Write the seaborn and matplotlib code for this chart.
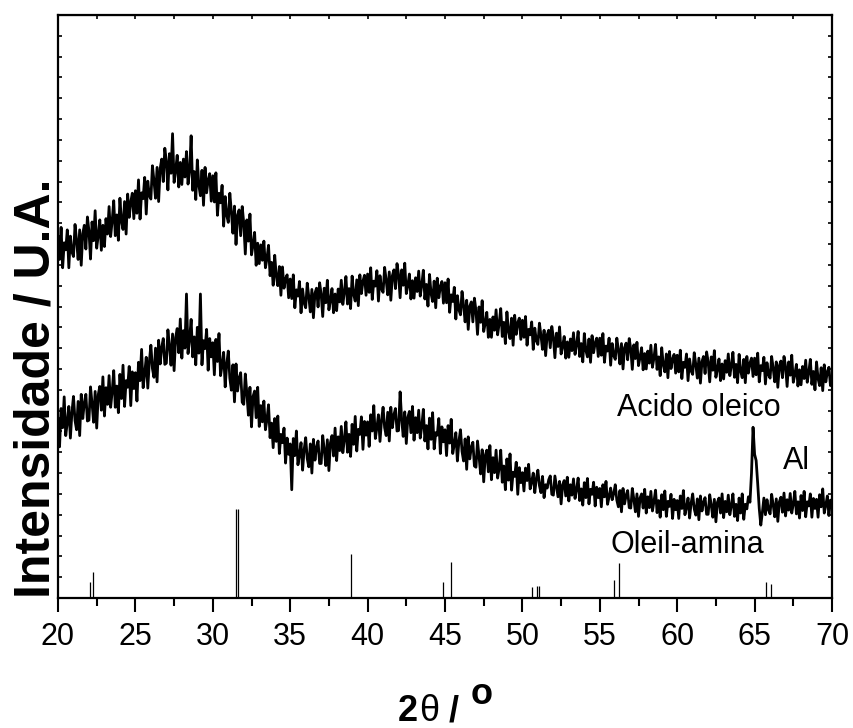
from matplotlib import pyplot as plt
from matplotlib.ticker import MultipleLocator
import seaborn as sns
import pandas as pd
import numpy as np

# 2theta scan grid (0.1 deg step)
two_theta = np.linspace(20, 70, 501)

# Acido oleico (upper pattern), counts, one row per degree
acido_oleico = [
    870, 813, 890, 793, 853, 836, 884, 793, 869, 831,
    820, 897, 858, 813, 884, 799, 875, 895, 838, 915,
    881, 814, 903, 858, 930, 840, 871, 908, 835, 895,
    844, 911, 874, 940, 868, 906, 954, 870, 920, 859,
    960, 905, 885, 952, 874, 970, 914, 951, 972, 911,
    978, 924, 1004, 910, 973, 959, 1010, 922, 1001, 966,
    958, 1038, 1002, 960, 1034, 952, 1031, 1054, 1000, 1080,
    1049, 980, 1067, 1020, 1115, 998, 1027, 1063, 987, 1046,
    993, 1054, 1011, 1072, 994, 1026, 1110, 979, 1024, 957,
    1052, 991, 966, 1027, 943, 1034, 973, 1004, 1019, 953,
    1014, 951, 1021, 919, 972, 949, 991, 893, 964, 919,
    902, 972, 927, 876, 941, 849, 919, 932, 870, 940,
    900, 826, 908, 857, 922, 824, 848, 878, 799, 852,
    803, 848, 811, 857, 793, 816, 847, 774, 806, 751,
    823, 773, 750, 796, 727, 795, 744, 767, 776, 721,
    766, 719, 776, 697, 740, 725, 760, 685, 742, 708,
    697, 756, 724, 687, 741, 673, 732, 744, 699, 757,
    730, 676, 744, 709, 763, 692, 715, 743, 685, 730,
    690, 742, 711, 763, 705, 735, 772, 706, 743, 695,
    773, 729, 713, 764, 702, 776, 731, 761, 775, 727,
    778, 734, 793, 717, 761, 749, 786, 713, 774, 742,
    734, 794, 763, 728, 783, 715, 774, 788, 743, 803,
    777, 721, 788, 751, 804, 731, 751, 778, 718, 762,
    720, 769, 736, 785, 725, 752, 787, 718, 753, 701,
    777, 731, 712, 761, 697, 768, 721, 748, 760, 708,
    757, 709, 766, 686, 728, 712, 746, 670, 726, 692,
    680, 736, 703, 663, 715, 645, 701, 711, 663, 720,
    690, 633, 699, 662, 714, 640, 660, 686, 626, 669,
    626, 675, 643, 692, 632, 660, 695, 628, 662, 611,
    687, 641, 623, 672, 607, 679, 633, 661, 672, 621,
    667, 626, 676, 607, 645, 632, 663, 597, 648, 618,
    609, 660, 630, 597, 643, 582, 632, 643, 601, 652,
    626, 577, 636, 604, 651, 586, 605, 628, 576, 615,
    578, 622, 594, 637, 585, 609, 640, 580, 611, 567,
    635, 595, 579, 622, 566, 630, 589, 613, 624, 580,
    624, 583, 635, 566, 605, 593, 624, 559, 611, 582,
    573, 624, 596, 562, 611, 550, 601, 612, 572, 623,
    598, 549, 608, 575, 614, 558, 578, 601, 548, 587,
    550, 593, 564, 607, 554, 577, 609, 549, 579, 534,
    601, 560, 543, 586, 529, 592, 551, 574, 585, 540,
    583, 543, 595, 527, 566, 554, 586, 522, 574, 545,
    537, 589, 561, 528, 576, 516, 568, 580, 539, 591,
    567, 519, 579, 547, 594, 530, 550, 574, 522, 562,
    526, 570, 542, 586, 534, 558, 590, 530, 561, 517,
    585, 545, 529, 573, 517, 580, 540, 564, 576, 532,
    576, 536, 588, 519, 558, 546, 578, 514, 565, 536,
    528, 580, 552, 519, 567, 506, 558, 569, 529, 580,
    556, 508, 567, 535, 583, 518, 537, 561, 509, 548,
    512, 556, 527, 571, 518, 542, 573, 513, 544, 500,
    567, 527, 510, 553, 498, 560, 519, 543, 554, 510,
    530,
]

# Oleil-amina (lower pattern), counts, one row per degree
oleil_amina = [
    433, 363, 455, 409, 483, 390, 422, 460, 384, 446,
    484, 426, 404, 472, 390, 489, 431, 469, 489, 425,
    427, 507, 467, 422, 496, 408, 488, 508, 451, 531,
    437, 505, 465, 534, 458, 496, 546, 458, 509, 445,
    537, 479, 559, 460, 522, 506, 556, 462, 543, 503,
    541, 473, 566, 522, 597, 505, 539, 578, 504, 567,
    607, 551, 530, 600, 519, 619, 562, 602, 623, 561,
    564, 644, 605, 559, 634, 546, 626, 647, 589, 670,
    576, 642, 600, 730, 587, 622, 669, 579, 627, 560,
    650, 588, 730, 560, 618, 599, 645, 547, 623, 579,
    613, 536, 621, 568, 635, 534, 559, 590, 507, 562,
    593, 528, 499, 560, 471, 562, 497, 528, 541, 470,
    465, 538, 491, 439, 506, 411, 484, 497, 433, 506,
    412, 462, 423, 473, 404, 429, 464, 385, 420, 361,
    431, 376, 437, 347, 393, 373, 408, 324, 384, 345,
    370, 260, 383, 342, 401, 320, 344, 373, 307, 356,
    385, 335, 315, 370, 300, 381, 331, 362, 377, 323,
    323, 390, 356, 318, 380, 306, 373, 390, 341, 408,
    330, 387, 354, 412, 349, 381, 423, 350, 393, 340,
    417, 369, 436, 353, 405, 393, 435, 357, 424, 391,
    423, 364, 440, 401, 462, 383, 409, 440, 376, 427,
    458, 409, 390, 446, 377, 458, 409, 440, 455, 401,
    402, 495, 429, 388, 447, 371, 434, 448, 397, 460,
    379, 433, 397, 451, 384, 413, 453, 377, 414, 358,
    432, 381, 445, 358, 397, 391, 431, 347, 411, 375,
    404, 342, 414, 372, 429, 347, 369, 397, 329, 377,
    404, 352, 329, 382, 309, 387, 334, 362, 374, 317,
    314, 377, 340, 298, 356, 279, 342, 355, 303, 366,
    284, 337, 301, 355, 288, 312, 355, 278, 317, 260,
    334, 283, 346, 259, 302, 292, 326, 249, 313, 277,
    301, 257, 312, 282, 321, 262, 279, 300, 253, 287,
    307, 270, 253, 292, 241, 272, 264, 284, 293, 249,
    247, 293, 268, 243, 280, 226, 272, 282, 245, 290,
    233, 272, 247, 286, 239, 261, 288, 234, 262, 223,
    277, 241, 287, 226, 261, 249, 278, 221, 266, 241,
    263, 219, 272, 243, 280, 225, 243, 264, 236, 251,
    272, 235, 219, 258, 207, 263, 226, 247, 258, 217,
    216, 263, 237, 207, 250, 196, 240, 250, 216, 261,
    204, 243, 217, 256, 209, 232, 259, 205, 234, 194,
    248, 212, 257, 196, 232, 220, 249, 191, 237, 212,
    234, 191, 245, 215, 258, 200, 218, 240, 192, 228,
    250, 214, 199, 238, 188, 245, 209, 230, 241, 201,
    201, 248, 223, 194, 237, 183, 230, 240, 204, 250,
    193, 232, 207, 247, 200, 222, 250, 196, 225, 186,
    240, 204, 250, 189, 225, 214, 243, 230, 300, 410,
    345, 330, 275, 215, 175, 205, 240, 200, 236, 212,
    202, 249, 224, 195, 238, 184, 231, 242, 206, 252,
    197, 236, 211, 251, 204, 226, 256, 202, 231, 192,
    246, 210, 256, 195, 231, 221, 250, 194, 239, 215,
    237, 194, 248, 219, 262, 204, 223, 245, 198, 235,
    228,
]

# reference pattern sticks
ref_pos = [22.07, 22.24, 31.50, 31.65, 38.9, 44.85, 45.39, 50.6, 50.92, 51.07, 55.92, 56.24, 65.74, 66.06]
ref_int = [38, 62, 214, 214, 106, 38, 86, 26, 29, 29, 43, 84, 38, 34]

sns.set_style("ticks", {"axes.edgecolor": "black", "xtick.color": "black", "ytick.color": "black",
                        "text.color": "black", "axes.labelcolor": "black"})
plt.rcParams["font.family"] = ["Liberation Sans", "DejaVu Sans"]

df = pd.DataFrame({"two_theta": np.concatenate([two_theta, two_theta]),
                   "counts": acido_oleico + oleil_amina,
                   "sample": ["Acido oleico"] * 501 + ["Oleil-amina"] * 501})

fig = plt.figure(figsize=(8.54, 7.28), dpi=100)
ax = fig.add_axes([58 / 854, 1 - 598 / 728, 774 / 854, 583 / 728])

sns.lineplot(x="two_theta", y="counts", units="sample", estimator=None, data=df,
             color="black", linewidth=2.0, ax=ax)
ax.vlines(ref_pos, 0, ref_int, color="black", linewidth=0.9)

ax.text(56.1, 456, "Acido oleico", fontsize=22, ha="left", va="center")
ax.text(66.83, 329, "Al", fontsize=22, ha="left", va="center")
ax.text(55.72, 127, "Oleil-amina", fontsize=22, ha="left", va="center")

ax.set_xlim(20, 70)
ax.set_ylim(0, 1400)
ax.xaxis.set_major_locator(MultipleLocator(5))
ax.xaxis.set_minor_locator(MultipleLocator(2.5))
ax.yaxis.set_major_locator(MultipleLocator(50))
ax.set_yticklabels([])
ax.tick_params(axis="x", which="major", direction="out", length=10, width=1.5, labelsize=22, pad=7, top=False)
ax.tick_params(axis="x", which="minor", direction="out", length=6, width=1.5, top=False)
ax.tick_params(axis="y", which="major", direction="in", length=3, width=1.2, left=True, right=True)
for s in ax.spines.values():
    s.set_linewidth(1.6)

# small ticks along the top frame
top = ax.secondary_xaxis("top")
top.xaxis.set_major_locator(MultipleLocator(2.5))
top.tick_params(direction="in", length=3, width=1.2, labelsize=0)
top.set_xticklabels([])

ax.set_xlabel("")
ax.set_ylabel("Intensidade / U.A.", fontsize=36, fontweight="bold")
ax.yaxis.set_label_coords(0.0015, 0.36)

# x label: 2θ / °
fig.text(398 / 854, 7 / 728, "2", fontsize=26, fontweight="bold", ha="left", va="baseline")
fig.text(419 / 854, 7 / 728, "θ", fontsize=26, ha="left", va="baseline")
fig.text(449 / 854, 7 / 728, "/", fontsize=26, fontweight="bold", ha="left", va="baseline")
fig.text(471 / 854, 24 / 728, "o", fontsize=26, fontweight="bold", ha="left", va="baseline")

fig.savefig("out.png", dpi=100)
